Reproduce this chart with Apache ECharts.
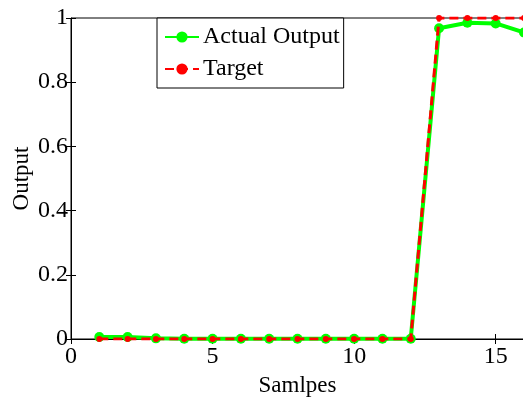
<!DOCTYPE html>
<html><head><meta charset="utf-8">
<script src="https://cdn.jsdelivr.net/npm/echarts@6/dist/echarts.min.js"></script>
<style>html,body{margin:0;padding:0;background:#fff}#c{width:523px;height:398px}</style>
</head><body><div id="c"></div>
<script>
const samples = [1,2,3,4,5,6,7,8,9,10,11,12,13,14,15,16];
const actualOutput = [0.006,0.006,0.002,0.001,0.001,0.001,0.001,0.001,0.001,0.001,0.001,0.001,0.968,0.985,0.983,0.955];
const target = [0,0,0,0,0,0,0,0,0,0,0,0,1,1,1,1];
const xTicks = [0,5,10,15];
const yTicks = [0,0.2,0.4,0.6,0.8,1];

const F = 'Liberation Serif, Times New Roman, serif';
const chart = echarts.init(document.getElementById('c'), null, {renderer:'canvas'});
const pairs = (ys) => samples.map((x,i)=>[x, ys[i]]);
chart.setOption({
  animation:false,
  grid:{left:71,right:-1,top:18,bottom:59,show:true,borderColor:'#000',borderWidth:1,
        containLabel:false, outerBoundsMode:'none'},
  legend:{
    orient:'vertical', left:157, top:18,
    backgroundColor:'#fff', borderColor:'#000', borderWidth:1,
    padding:[7,4,7,7], itemGap:8, itemWidth:34, itemHeight:14,
    textStyle:{fontFamily:F,fontSize:24,color:'#000',padding:[0,0,0,-1]},
    data:['Actual Output','Target']
  },
  xAxis:[{
    type:'value', min:0, max:16, interval:5,
    name:'Samlpes', nameLocation:'middle', nameGap:35, nameMoveOverlap:false,
    nameTextStyle:{fontFamily:F,fontSize:23,color:'#000'},
    axisLine:{lineStyle:{color:'#000',width:1}},
    axisTick:{inside:true,length:5,lineStyle:{color:'#000'}},
    axisLabel:{fontFamily:F,fontSize:24,color:'#000',margin:6,
      formatter:v=>xTicks.includes(v)?String(v):''},
    splitLine:{show:false}
  },{
    type:'value', min:0, max:16, interval:5, position:'top',
    axisLine:{show:false},
    axisTick:{inside:true,length:5,lineStyle:{color:'#000'}},
    axisLabel:{show:false}, splitLine:{show:false}
  }],
  yAxis:[{
    type:'value', min:0, max:1, interval:0.2,
    name:'Output', nameLocation:'middle', nameGap:38, nameMoveOverlap:false,
    nameTextStyle:{fontFamily:F,fontSize:23,color:'#000'},
    axisLine:{show:true,lineStyle:{color:'#000',width:1}},
    axisTick:{show:true,inside:true,length:5,lineStyle:{color:'#000'}},
    axisLabel:{fontFamily:F,fontSize:24,color:'#000',margin:3,
      formatter:v=>{const t=yTicks.find(y=>Math.abs(y-v)<1e-9);return t===undefined?'':String(t);}},
    splitLine:{show:false}
  },{
    type:'value', min:0, max:1, interval:0.2, position:'right',
    axisLine:{show:false},
    axisTick:{show:true,inside:true,length:5,lineStyle:{color:'#000'}},
    axisLabel:{show:false}, splitLine:{show:false}
  }],
  series:[{
    name:'Actual Output', type:'line', data:pairs(actualOutput),
    symbol:'circle', symbolSize:10, showSymbol:true,
    lineStyle:{color:'#00ff00',width:4},
    itemStyle:{color:'#00ff00'}, z:2
  },{
    name:'Target', type:'line', data:pairs(target),
    symbol:'circle', symbolSize:6,
    lineStyle:{color:'#ff0000',width:3,type:[9,5]},
    itemStyle:{color:'#ff0000'}, z:3
  }]
});
</script></body></html>
